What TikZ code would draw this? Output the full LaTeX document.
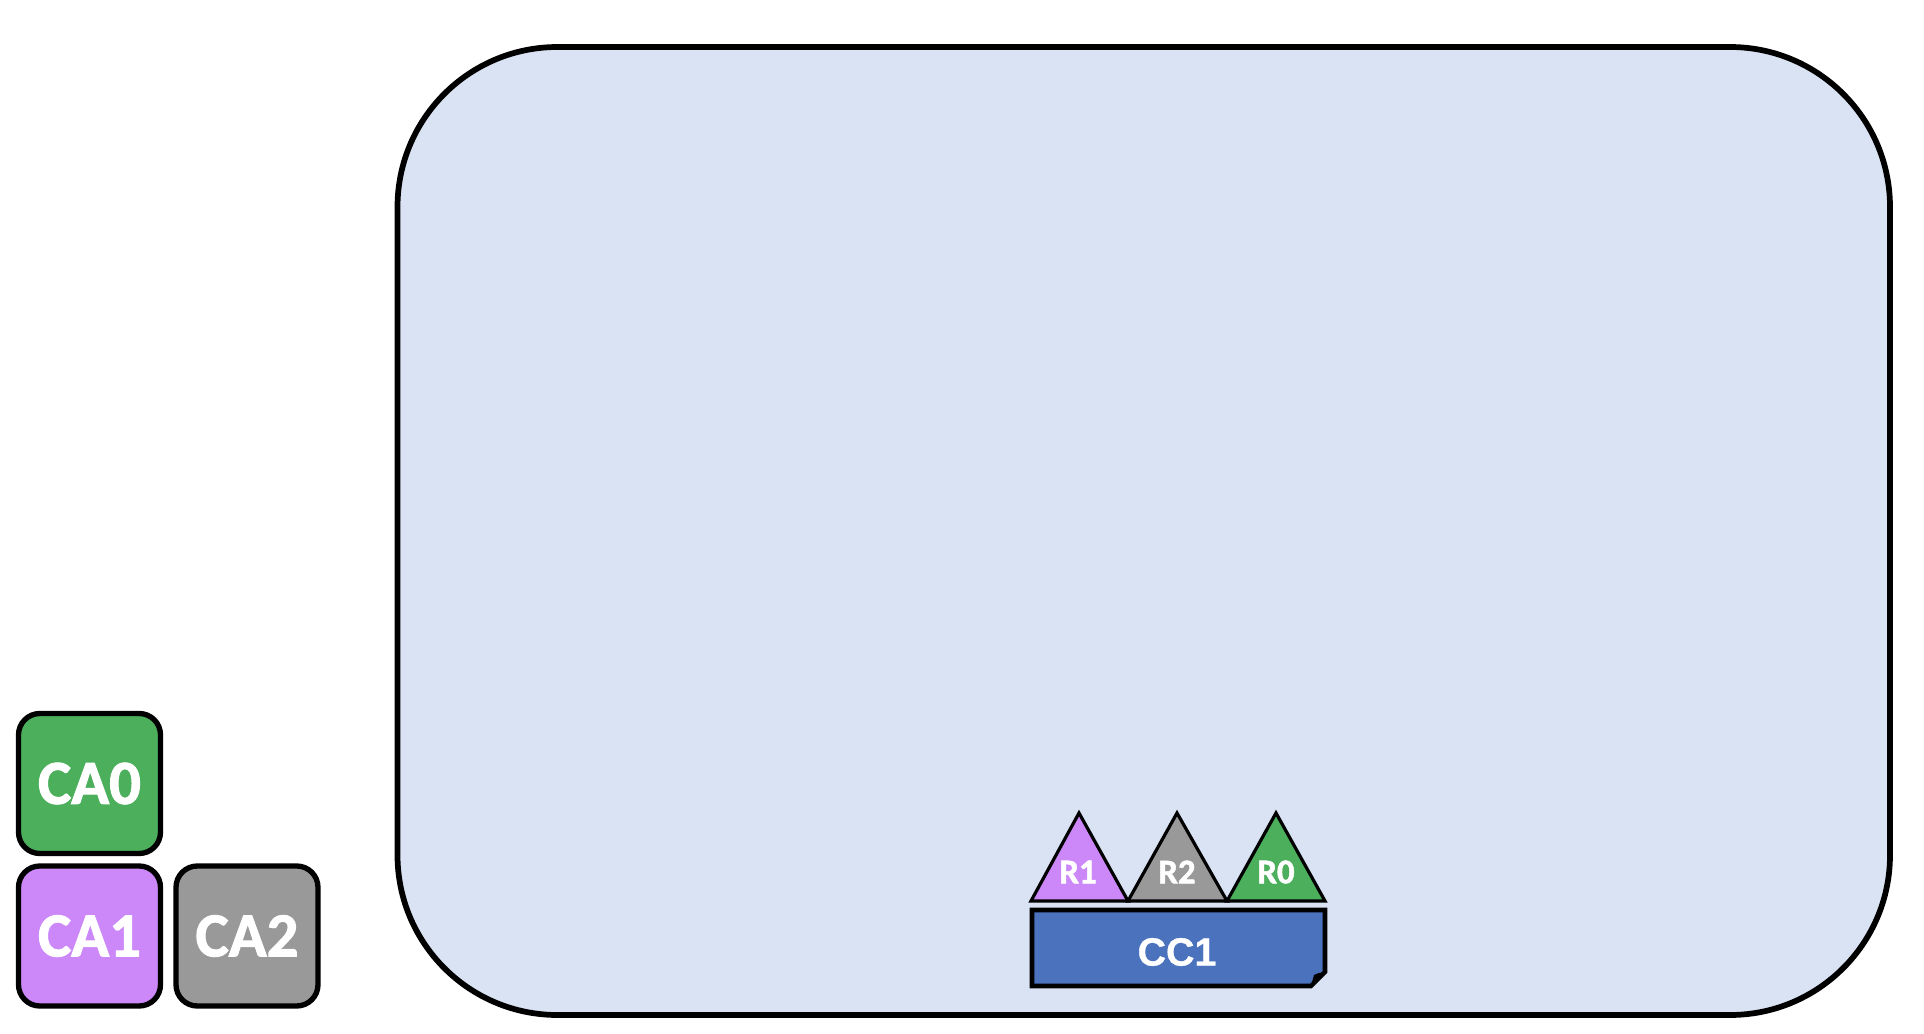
\documentclass[tikz,border=0pt]{standalone}
\usepackage{fontspec}
\newfontfamily\carl{Carlito}[BoldFeatures={FakeBold=1.6}]
\newfontfamily\arl{Liberation Sans}[BoldFeatures={FakeBold=0.8}]
\definecolor{bgblue}{HTML}{DAE3F3}
\definecolor{cagreen}{HTML}{4CAF5C}
\definecolor{capurple}{HTML}{CC88F9}
\definecolor{cagray}{HTML}{999999}
\definecolor{ccblue}{HTML}{4A72BD}
\begin{document}
\begin{tikzpicture}[x=0.75pt,y=-0.75pt,
  cabox/.style={draw=black,line width=4pt,rounded corners=16pt,minimum width=106.5pt,minimum height=105pt,inner sep=0pt,text=white,font=\carl\bfseries\fontsize{47}{47}\selectfont},
  tri/.style={draw=black,line width=2.4pt,line join=miter},
  rlabel/.style={text=white,inner sep=0pt,font=\carl\bfseries\fontsize{26}{26}\selectfont}]
\useasboundingbox (0,0) rectangle (1924,1034);
% big container
\draw[fill=bgblue,line width=4.3pt,rounded corners=120pt] (397.5,47) rectangle (1890,1015);
% CA boxes
\node[cabox,fill=cagreen] (ca0) at (89.5,783.5) {CA0};
\node[cabox,fill=capurple] (ca1) at (89.5,936) {CA1};
\node[cabox,fill=cagray] (ca2) at (247,936) {CA2};
% triangles
\draw[tri,fill=capurple] (1031,901) -- (1079,813) -- (1128,901) -- cycle;
\draw[tri,fill=cagray] (1128,901) -- (1177,813) -- (1227,901) -- cycle;
\draw[tri,fill=cagreen] (1227,901) -- (1276,813) -- (1325,901) -- cycle;
\node[rlabel] (r1) at (1078,872) {R1};
\node[rlabel] (r2) at (1177,872) {R2};
\node[rlabel] (r0) at (1276,872) {R0};
% CC1 folded box
\draw[fill=ccblue,line width=3.4pt,line join=miter] (1032,910) -- (1325,910) -- (1325,972) -- (1311,986) -- (1032,986) -- cycle;
\fill[black] (1311,986) -- (1314,975) .. controls (1318,973) .. (1325,972) -- cycle;
\node[text=white,inner sep=0pt,font=\arl\bfseries\fontsize{29.5}{29.5}\selectfont] (cc1) at (1177,952) {CC1};
\end{tikzpicture}
\end{document}
